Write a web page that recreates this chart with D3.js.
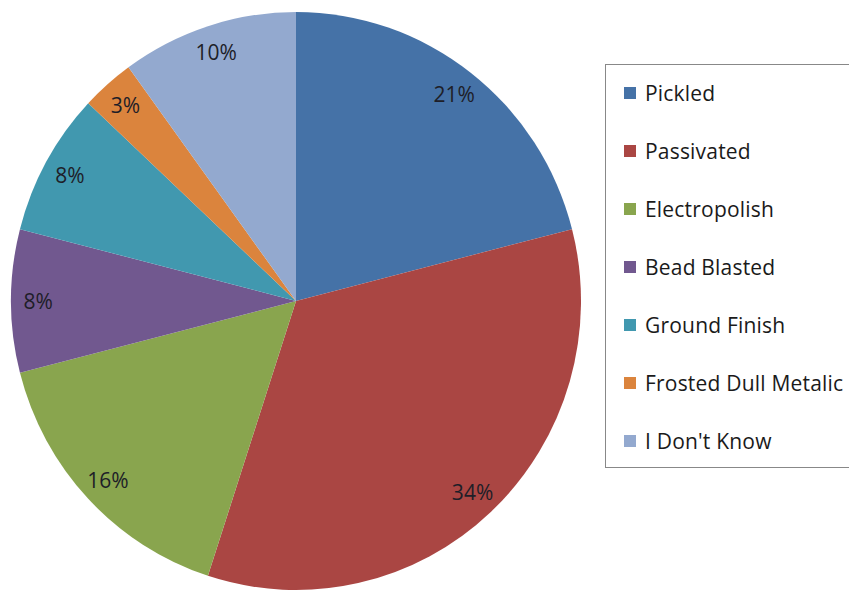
<!DOCTYPE html>
<html><head><meta charset="utf-8">
<script src="https://cdn.jsdelivr.net/npm/d3@7"></script>
<style>body{margin:0;background:#fff;} svg{display:block;}</style>
</head><body>
<svg id="chart" width="849" height="592"></svg>
<script>
const categories = ["Pickled","Passivated","Electropolish","Bead Blasted","Ground Finish","Frosted Dull Metalic","I Don't Know"];
const values = [21,34,16,8,8,3,10];
const colors = ["#4572A7","#AA4643","#89A54E","#71588F","#4198AF","#DB843D","#93A9CF"];

const svg = d3.select("#chart");
const cx = 296, cy = 301, r = 285;
const font = "'Open Sans', Lato, sans-serif";

const pie = d3.pie().sort(null).value(d => d.v);
const data = pie(categories.map((c,i)=>({c, v: values[i], col: colors[i]})));
const arc = d3.arc().innerRadius(0).outerRadius(r);
const labelArc = d3.arc().innerRadius(r*0.905).outerRadius(r*0.905);
const total = d3.sum(values);

const sy = 1.014;
const g = svg.append("g").attr("transform", `translate(${cx},${cy}) scale(1,${sy})`);
g.selectAll("path").data(data).join("path")
  .attr("d", arc).attr("fill", d => d.data.col);
g.selectAll("text").data(data).join("text")
  .attr("transform", d => `translate(${labelArc.centroid(d)}) scale(1,${1/sy})`)
  .attr("text-anchor","middle").attr("dominant-baseline","central")
  .attr("font-family", font).attr("font-size", 21).attr("fill","#1e1e28")
  .text(d => Math.round(d.data.v/total*100) + "%");

// legend
const lg = svg.append("g");
lg.append("rect").attr("x",605.5).attr("y",64.5).attr("width",260).attr("height",403)
  .attr("fill","#fff").attr("stroke","#888").attr("stroke-width",1);
const ly = d3.scalePoint().domain(categories).range([93,441]);
const items = lg.selectAll("g.item").data(categories).join("g").attr("class","item")
  .attr("transform", d => `translate(624,${ly(d)})`);
items.append("rect").attr("x",0).attr("y",-6).attr("width",12).attr("height",12)
  .attr("fill",(d,i)=>colors[i]);
items.append("text").attr("x",21).attr("y",0).attr("dominant-baseline","central")
  .attr("font-family", font).attr("font-size",21).attr("letter-spacing","0.2px")
  .attr("fill","#1a1a1a").text(d=>d);
</script>
</body></html>
